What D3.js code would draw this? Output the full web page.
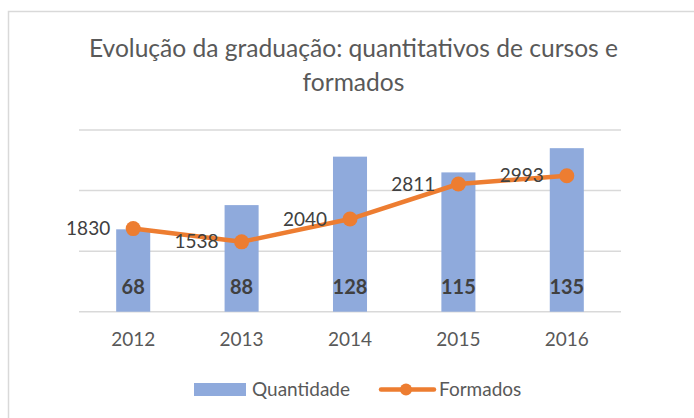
<!DOCTYPE html>
<html>
<head>
<meta charset="utf-8">
<script src="https://cdn.jsdelivr.net/npm/d3@7"></script>
<style>
  body { margin: 0; background: #fff; }
  svg { display: block; font-family: Lato, "Open Sans", sans-serif; }
</style>
</head>
<body>
<svg id="chart" width="694" height="418"></svg>
<script>
//#region DATA /////////////////////////////////////////////////////////////////

const years = ["2012", "2013", "2014", "2015", "2016"];
const quantidade = [68, 88, 128, 115, 135];      // bars, left axis
const formados = [1830, 1538, 2040, 2811, 2993]; // line, right axis
const barTicks = [0, 50, 100, 150];
const titleLines = ["Evolução da graduação: quantitativos de cursos e", "formados"];
const seriesNames = ["Quantidade", "Formados"];

//#endregion

//#region LAYOUT ///////////////////////////////////////////////////////////////

const PLOT_LEFT = 79, PLOT_RIGHT = 621, PLOT_TOP = 130, PLOT_BOTTOM = 311.7;
const BAR_COLOR = "#8faadc", LINE_COLOR = "#ed7d31";
const GRID_COLOR = "#d9d9d9", TEXT_COLOR = "#595959", LABEL_COLOR = "#404040";
const TITLE_WIDTH = 529; // width of the first title line in the reference

const svg = d3.select("#chart");

// chart area border (right and bottom edges fall outside the picture)
svg.append("rect")
    .attr("x", 8.5).attr("y", 11.5)
    .attr("width", 720).attr("height", 440)
    .attr("fill", "#fff")
    .attr("stroke", GRID_COLOR)
    .attr("stroke-width", 1.5);

// title
let title = svg.append("text")
    .attr("text-anchor", "middle")
    .attr("fill", TEXT_COLOR)
    .style("font-size", "23px");
title.selectAll("tspan")
    .data(titleLines)
    .join("tspan")
    .attr("x", 353.5)
    .attr("y", (_d, i) => 57 + i * 34)
    .text(d => d);

// scale the font so the first line spans roughly what it does in Excel
let firstLine = title.select("tspan").node().getComputedTextLength();
title.style("font-size", (23 * TITLE_WIDTH / firstLine).toFixed(2) + "px");

//#endregion

//#region SCALES ///////////////////////////////////////////////////////////////

let x = d3.scaleBand().domain(years).range([PLOT_LEFT, PLOT_RIGHT])
    .paddingInner(0.686).paddingOuter(0.343);
let yBar = d3.scaleLinear().domain([0, 150]).range([PLOT_BOTTOM, PLOT_TOP]);
let yLine = d3.scaleLinear().domain([0, 4000]).range([PLOT_BOTTOM, PLOT_TOP]);
let cx = d => x(d) + x.bandwidth() / 2;

//#endregion

//#region DRAWING //////////////////////////////////////////////////////////////

// gridlines
svg.append("g")
    .selectAll("line")
    .data(barTicks)
    .join("line")
    .attr("x1", PLOT_LEFT).attr("x2", PLOT_RIGHT)
    .attr("y1", d => yBar(d)).attr("y2", d => yBar(d))
    .attr("stroke", GRID_COLOR)
    .attr("stroke-width", 1.5);

// bars
svg.append("g")
    .selectAll("rect")
    .data(quantidade)
    .join("rect")
    .attr("x", (_d, i) => x(years[i]))
    .attr("width", x.bandwidth())
    .attr("y", d => yBar(d))
    .attr("height", d => yBar(0) - yBar(d))
    .attr("fill", BAR_COLOR);

// bar labels, bold near the bottom of each bar
svg.append("g")
    .selectAll("text")
    .data(quantidade)
    .join("text")
    .attr("x", (_d, i) => cx(years[i]))
    .attr("y", yBar(0) - 25)
    .attr("dy", "0.35em")
    .attr("text-anchor", "middle")
    .attr("fill", LABEL_COLOR)
    .style("font-size", "20px")
    .style("font-weight", "bold")
    .text(d => d);

// x axis labels
let xAxis = svg.append("g")
    .attr("transform", "translate(0," + PLOT_BOTTOM + ")")
    .call(d3.axisBottom(x).tickSize(0).tickPadding(0));
xAxis.select(".domain").remove();
xAxis.selectAll("text")
    .attr("y", 28)
    .attr("dy", "0.35em")
    .attr("fill", TEXT_COLOR)
    .style("font-family", "Lato, 'Open Sans', sans-serif")
    .style("font-size", "19px");

// line series
let gen = d3.line().x((_d, i) => cx(years[i])).y(d => yLine(d));
svg.append("path")
    .attr("d", gen(formados))
    .attr("fill", "none")
    .attr("stroke", LINE_COLOR)
    .attr("stroke-width", 4.5)
    .attr("stroke-linejoin", "round")
    .attr("stroke-linecap", "round");

svg.append("g")
    .selectAll("circle")
    .data(formados)
    .join("circle")
    .attr("cx", (_d, i) => cx(years[i]))
    .attr("cy", d => yLine(d))
    .attr("r", 7.5)
    .attr("fill", LINE_COLOR);

// line labels sit to the left of each point
svg.append("g")
    .selectAll("text")
    .data(formados)
    .join("text")
    .attr("x", (_d, i) => cx(years[i]) - 23)
    .attr("y", d => yLine(d))
    .attr("dy", "0.35em")
    .attr("text-anchor", "end")
    .attr("fill", LABEL_COLOR)
    .style("font-size", "19px")
    .text(d => d);

//#endregion

//#region LEGEND ///////////////////////////////////////////////////////////////

let legend = svg.append("g").attr("transform", "translate(0,389.5)");
legend.append("rect")
    .attr("x", 194).attr("y", -6.5)
    .attr("width", 52).attr("height", 13)
    .attr("fill", BAR_COLOR);
legend.append("text")
    .attr("x", 252).attr("dy", "0.35em")
    .attr("fill", TEXT_COLOR)
    .style("font-size", "19px")
    .text(seriesNames[0]);
legend.append("line")
    .attr("x1", 381).attr("x2", 434)
    .attr("stroke", LINE_COLOR)
    .attr("stroke-width", 4.5)
    .attr("stroke-linecap", "round");
legend.append("circle")
    .attr("cx", 406).attr("r", 6)
    .attr("fill", LINE_COLOR);
legend.append("text")
    .attr("x", 439).attr("dy", "0.35em")
    .attr("fill", TEXT_COLOR)
    .style("font-size", "19px")
    .text(seriesNames[1]);

//#endregion
</script>
</body>
</html>
